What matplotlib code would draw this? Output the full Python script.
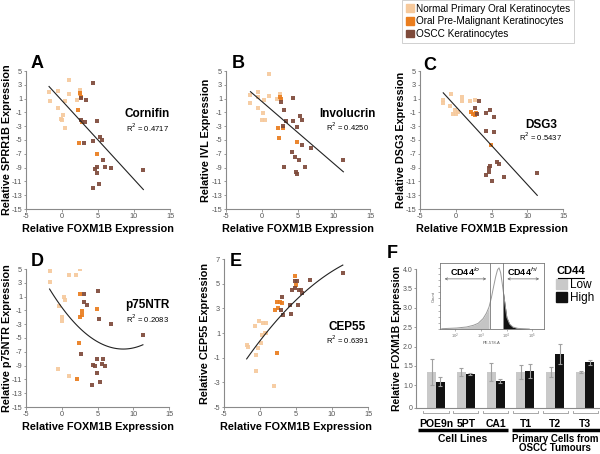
import numpy as np
import matplotlib
matplotlib.use("Agg")
import matplotlib.pyplot as plt
from matplotlib.patches import Patch
from matplotlib.lines import Line2D
import matplotlib.transforms as mtransforms

plt.rcParams['font.family'] = ['Liberation Sans', 'DejaVu Sans']
plt.rcParams['axes.unicode_minus'] = False

# colours of the three sample types
col_norm = '#F6C99C'
col_pre = '#EA7D1E'
col_oscc = '#7E4A3A'
group_names = ['Normal Primary Oral Keratinocytes', 'Oral Pre-Malignant Keratinocytes', 'OSCC Keratinocytes']

# ---- A: SPRR1B ----
a_norm_x = [1.0, -1.8, -0.5, -1.7, 0.4, 1.0, 2.1, 2.5, -0.5, 0.2, 0.0, 0.4, -0.1, 2.5]
a_norm_y = [3.7, 2.0, 2.05, 0.6, 0.6, 1.6, 0.85, 2.3, -0.4, -1.4, -2.1, -3.3, -1.9, 1.7]
a_pre_x = [2.2, 2.5, 2.6, 2.4, 4.9, 2.8]
a_pre_y = [-0.7, 1.8, 1.2, -5.5, -7.1, -2.4]
a_oscc_x = [4.35, 3.3, 2.7, 3.2, 4.9, 3.05, 4.35, 5.3, 5.5, 5.65, 4.9, 4.6, 4.8, 6.0, 6.75, 4.25, 5.1, 11.3, 2.6]
a_oscc_y = [3.2, 0.75, -2.05, -2.4, -2.2, -5.4, -5.1, -4.5, -5.0, -7.85, -8.9, -9.15, -9.8, -8.9, -9.0, -12.0, -11.4, -9.4, 1.1]
a_fit = [-1.14, 0.70]

# ---- B: IVL ----
b_norm_x = [1.0, -1.6, -1.6, -0.55, -0.5, 0.3, 1.0, -0.5, 0.2, 0.0, 0.45, 2.1, 2.5]
b_norm_y = [4.5, 1.5, 0.3, 2.0, 1.25, 0.8, 1.35, -0.3, -1.15, -2.1, -2.1, 1.0, 1.7]
b_pre_x = [2.5, 2.7, 2.2, 2.85, 2.3, 4.8]
b_pre_y = [1.25, 1.0, -3.2, -3.2, -4.75, -5.25]
b_oscc_x = [2.7, 4.3, 3.0, 3.3, 4.3, 5.3, 5.5, 4.8, 2.95, 5.6, 6.75, 4.2, 4.6, 5.2, 6.0, 3.1, 4.7, 4.9, 11.3]
b_oscc_y = [0.5, 1.15, -0.65, -2.25, -2.2, -1.55, -2.1, -3.1, -3.0, -5.7, -6.2, -6.7, -7.4, -7.9, -8.95, -8.85, -9.7, -9.9, -7.9]
b_fit = [-0.90, 0.56]

# ---- C: DSG3 ----
c_norm_x = [-1.75, -1.75, -0.6, -0.75, -0.1, 0.1, -0.4, 0.3, 0.9, 0.9, 2.0, 2.65]
c_norm_y = [0.85, 0.3, 1.7, 0.0, -0.6, -1.2, -1.2, -1.0, 1.3, 0.65, 0.65, 0.85]
c_pre_x = [2.2, 2.4, 2.65, 2.8, 4.9]
c_pre_y = [-1.0, -1.3, -1.4, -1.1, -5.7]
c_oscc_x = [2.65, 3.0, 3.3, 4.3, 4.85, 5.3, 4.3, 5.4, 5.7, 6.0, 4.65, 4.85, 4.65, 4.2, 5.1, 6.75, 11.4]
c_oscc_y = [-0.3, -1.3, 0.65, -1.1, -0.7, -1.65, -3.7, -3.85, -8.2, -8.5, -9.0, -8.8, -9.6, -10.0, -11.0, -10.3, -9.8]
c_fit = [-1.13, -0.14]

# ---- D: p75NTR ----
d_norm_x = [-1.6, -1.7, 1.0, 2.0, 2.55, 0.25, 0.45, -0.45, 0.0, 0.1, -0.5, 1.0]
d_norm_y = [4.65, 3.1, 4.1, 4.1, 5.0, 1.0, 0.45, -0.3, -2.0, -2.6, -9.5, -10.55]
d_pre_x = [2.55, 2.9, 2.8, 2.55, 4.9, 2.4, 2.2]
d_pre_y = [1.4, -1.05, -1.6, -1.95, -0.8, -5.7, -10.9]
d_oscc_x = [3.15, 5.0, 3.1, 3.5, 5.2, 6.85, 11.35, 2.7, 4.9, 5.7, 4.35, 4.65, 5.6, 6.1, 4.95, 5.35, 4.25]
d_oscc_y = [1.4, 1.8, 0.2, -0.2, -2.2, -2.9, -4.6, -7.25, -8.0, -8.05, -8.85, -9.0, -8.7, -9.0, -10.1, -11.4, -11.8]
d_fit = [0.082, -1.41, -0.54]

# ---- E: CEP55 ----
e_norm_x = [-1.85, -1.7, -0.7, -0.1, 0.45, 0.85, 0.25, 0.7, 0.9, 0.15, -0.25, -0.6, -0.6, 1.95]
e_norm_y = [0.05, -0.15, 1.6, 2.0, 1.8, 1.85, 0.8, 1.0, 1.0, 0.2, -0.2, -0.75, -2.05, -3.3]
e_pre_x = [4.85, 2.3, 2.8, 3.0, 2.1, 2.55, 2.4, 5.0]
e_pre_y = [5.65, 3.5, 3.5, 3.4, 2.9, 3.0, -0.6, 4.9]
e_oscc_x = [3.1, 4.85, 5.1, 4.4, 4.8, 6.95, 5.7, 5.9, 5.4, 4.15, 5.3, 3.25, 4.3, 2.9, 11.5]
e_oscc_y = [3.95, 5.2, 5.2, 4.5, 4.65, 5.3, 4.5, 4.25, 4.5, 3.3, 3.3, 2.5, 2.55, 2.9, 5.9]
e_fit = [-0.0194, 0.757, 0.367]

# ---- F: FOXM1B in CD44 low / high cells ----
f_samples = ['POE9n', '5PT', 'CA1', 'T1', 'T2', 'T3']
f_low = [1.34, 1.34, 1.34, 1.34, 1.34, 1.34]
f_low_err = [0.33, 0.10, 0.23, 0.19, 0.13, 0.03]
f_high = [1.09, 1.29, 1.10, 1.36, 1.81, 1.59]
f_high_err = [0.13, 0.02, 0.05, 0.18, 0.25, 0.07]

# flow cytometry histogram (log10 PE intensity vs relative count)
flow_log = [1.49, 2.06, 2.45, 2.71, 2.90, 3.09, 3.22, 3.32, 3.41, 3.50, 3.58, 3.65, 3.71,
            3.77, 3.83, 3.88, 3.95, 4.01, 4.12, 4.24, 4.44, 4.88]
flow_count = [0.5, 1.6, 3.3, 6, 9.3, 17, 26, 36, 51, 70, 86, 97, 100,
              92, 75, 59, 37, 19, 8, 3.3, 1, 0]
flow_lo_cut = 3.35
flow_hi_cut = 3.88

W, H = 600, 454
fig = plt.figure(figsize=(6.0, 4.54), dpi=100)
LAB = 7.8


def rect(x0, y0, x1, y1):
    return [x0 / W, 1 - y1 / H, (x1 - x0) / W, (y1 - y0) / H]


def style_axes(ax):
    for s in ['top', 'right']:
        ax.spines[s].set_visible(False)
    for s in ['left', 'bottom']:
        ax.spines[s].set_color('#8a8a8a')
        ax.spines[s].set_linewidth(0.8)
    ax.tick_params(colors='#8a8a8a', labelcolor='#555555', labelsize=5.3, length=1.8, width=0.6, pad=1.0)


def scatter_panel(box, letter, gene_y, name, r2, groups, fit, ylim, yticks, txt_xy, letter_xy, ylab_x):
    ax = fig.add_axes(rect(*box))
    allx = []
    for (gx, gy), c in zip(groups, [col_norm, col_pre, col_oscc]):
        ax.scatter(gx, gy, marker='s', s=12, color=c, linewidths=0, alpha=0.92, zorder=3)
        allx += gx
    xs = np.linspace(min(allx), max(allx), 100)
    ax.plot(xs, np.polyval(fit, xs), color='#222222', lw=0.8, zorder=4)
    ax.set_xlim(-5, 15)
    ax.set_ylim(*ylim)
    ax.set_xticks([-5, 0, 5, 10, 15])
    ax.set_yticks(yticks)
    style_axes(ax)
    ax.set_xlabel('Relative FOXM1B Expression', fontsize=LAB, fontweight='bold', labelpad=3)
    ax.set_ylabel('Relative %s Expression' % gene_y, fontsize=LAB, fontweight='bold')
    ax.yaxis.set_label_coords((ylab_x - box[0]) / (box[2] - box[0]), 0.5)
    ax.text(txt_xy[0], txt_xy[1], name, fontsize=8.5, fontweight='bold', ha='center', va='center')
    ax.text(txt_xy[0], txt_xy[2], 'R$^2$ = %s' % r2, fontsize=5.5, ha='center', va='center')
    fig.text(letter_xy[0] / W, 1 - letter_xy[1] / H, letter, fontsize=13, fontweight='bold',
             ha='center', va='center')
    return ax


yt = list(range(-15, 6, 2))
scatter_panel((26, 71, 170, 209), 'A', 'SPRR1B', 'Cornifin', '0.4717',
              [(a_norm_x, a_norm_y), (a_pre_x, a_pre_y), (a_oscc_x, a_oscc_y)], a_fit,
              (-15, 5), yt, (11.85, -1.3, -3.2), (37, 63), 11.8)
scatter_panel((226, 71, 370, 209), 'B', 'IVL', 'Involucrin', '0.4250',
              [(b_norm_x, b_norm_y), (b_pre_x, b_pre_y), (b_oscc_x, b_oscc_y)], b_fit,
              (-15, 5), yt, (11.9, -1.2, -3.1), (238, 63), 211)
scatter_panel((420, 71, 563, 209), 'C', 'DSG3', 'DSG3', '0.5437',
              [(c_norm_x, c_norm_y), (c_pre_x, c_pre_y), (c_oscc_x, c_oscc_y)], c_fit,
              (-15, 5), yt, (11.9, -2.8, -4.6), (430, 65), 405.5)
scatter_panel((26, 269, 169, 407), 'D', 'p75NTR', 'p75NTR', '0.2083',
              [(d_norm_x, d_norm_y), (d_pre_x, d_pre_y), (d_oscc_x, d_oscc_y)], d_fit,
              (-15, 5), yt, (11.95, -0.2, -2.15), (37, 262), 11.8)
scatter_panel((224, 259, 368, 407), 'E', 'CEP55', 'CEP55', '0.6391',
              [(e_norm_x, e_norm_y), (e_pre_x, e_pre_y), (e_oscc_x, e_oscc_y)], e_fit,
              (-5, 7), list(range(-5, 8, 2)), (12.1, 1.5, 0.47), (236, 262), 210)

# ---- panel F ----
axf = fig.add_axes(rect(416, 269, 600, 408))


def fwd(v):
    v = np.asarray(v, dtype=float)
    return np.where(v >= 1, v, 1 - (1 - v) * 0.586)


def inv(u):
    u = np.asarray(u, dtype=float)
    return np.where(u >= 1, u, 1 - (1 - u) / 0.586)


axf.set_yscale('function', functions=(fwd, inv))
idx = np.arange(len(f_samples))
bw = 0.3
ekw = dict(ecolor='#a0a0a0', elinewidth=0.8, capsize=1.5, capthick=0.8)
axf.bar(idx - bw / 2, f_low, bw, yerr=f_low_err, color='#c9c9c9', error_kw=ekw, zorder=2)
axf.bar(idx + bw / 2, f_high, bw, yerr=f_high_err, color='#111111', error_kw=ekw, zorder=2)
axf.set_ylim(0, 4.0)
axf.set_xlim(-0.67, 5.5)
axf.set_yticks([0, 1.0, 1.5, 2.0, 2.5, 3.0, 3.5, 4.0])
axf.set_yticklabels(['0', '1.0', '1.5', '2.0', '2.5', '3.0', '3.5', '4.0'])
axf.yaxis.set_minor_locator(matplotlib.ticker.NullLocator())
axf.set_xticks(idx)
axf.set_xticklabels(f_samples)
style_axes(axf)
axf.tick_params(axis='y', length=1.5, pad=0.8, labelsize=5)
axf.tick_params(axis='x', length=0, pad=8, labelsize=7.5, labelcolor='black')
for t in axf.get_xticklabels():
    t.set_fontweight('bold')
axf.set_ylabel('Relative FOXM1B Expression', fontsize=7.5, fontweight='bold')
axf.yaxis.set_label_coords((402.5 - 416) / 184, 0.5)

tr = mtransforms.blended_transform_factory(axf.transData, axf.transAxes)
for i in idx:
    axf.plot([i - 0.42, i - 0.42, i + 0.42, i + 0.42], [-0.02, -0.035, -0.035, -0.02],
             transform=tr, clip_on=False, color='#9a9a9a', lw=0.6)
axf.plot([-0.6, 2.42], [-0.155, -0.155], transform=tr, clip_on=False, color='black', lw=2.5,
         solid_capstyle='butt')
axf.plot([2.55, 5.5], [-0.155, -0.155], transform=tr, clip_on=False, color='black', lw=2.5,
         solid_capstyle='butt')
axf.text(0.9, -0.225, 'Cell Lines', transform=tr, ha='center', va='center', fontsize=7.5,
         fontweight='bold')
axf.text(4.0, -0.255, 'Primary Cells from\nOSCC Tumours', transform=tr, ha='center', va='center',
         fontsize=7, fontweight='bold', linespacing=0.95)
fig.text(392 / W, 1 - 254 / H, 'F', fontsize=13, fontweight='bold', ha='center', va='center')

# CD44 legend
fig.text(571 / W, 1 - 271 / H, 'CD44', fontsize=8, fontweight='bold', ha='center', va='center')
fig.add_artist(Line2D([558 / W, 584 / W], [1 - 277.5 / H, 1 - 277.5 / H], color='black', lw=0.8))
axf.legend(handles=[Patch(color='#c9c9c9', label='Low'), Patch(color='#111111', label='High')],
           loc='upper left', bbox_to_anchor=((555 - 416) / 184, 1 - (278 - 269) / 139),
           fontsize=8.5, frameon=False, handlelength=0.9, handleheight=0.9,
           handletextpad=0.3, labelspacing=0.1, borderpad=0.1, borderaxespad=0)

# flow cytometry inset
axi = fig.add_axes(rect(440, 263, 544, 329))
fx = np.array(flow_log)
fy = np.array(flow_count)
axi.plot(fx, fy, color='#9a9a9a', lw=0.7)
axi.fill_between(fx, fy, where=fx <= flow_lo_cut + 0.05, color='#c4c4c4', lw=0)
axi.fill_between(fx, fy, where=fx >= flow_hi_cut, color='#111111', lw=0)
axi.axvline(flow_lo_cut, color='#777777', lw=0.6)
axi.axvline(flow_hi_cut, color='#777777', lw=0.6)
axi.set_xlim(1.42, 5.45)
axi.set_ylim(0, 108)
axi.set_xticks([2, 3, 4, 5])
axi.set_xticklabels(['10$^2$', '10$^3$', '10$^4$', '10$^5$'])
axi.set_yticks(range(0, 101, 10))
axi.set_yticklabels([])
axi.tick_params(labelsize=3, length=1.2, width=0.4, pad=0.5, colors='#777777')
for s in axi.spines.values():
    s.set_color('#777777')
    s.set_linewidth(0.6)
axi.set_xlabel('PE-578-A', fontsize=3, labelpad=0.5, color='#555555')
axi.set_ylabel('Count', fontsize=3, labelpad=1, color='#555555')
axi.annotate('', xy=(1.49, 82), xytext=(3.32, 82),
             arrowprops=dict(arrowstyle='<->', color='#666666', lw=0.5, mutation_scale=4))
axi.annotate('', xy=(3.92, 82), xytext=(5.37, 82),
             arrowprops=dict(arrowstyle='<->', color='#666666', lw=0.5, mutation_scale=4))
axi.text(2.4, 94, 'CD44$^{lo}$', fontsize=6.5, fontweight='bold', ha='center', va='center')
axi.text(4.62, 94, 'CD44$^{hi}$', fontsize=6.5, fontweight='bold', ha='center', va='center')

# top legend
handles = [Patch(color=c, label=n) for c, n in zip([col_norm, col_pre, col_oscc], group_names)]
leg = fig.legend(handles=handles, loc='upper left', bbox_to_anchor=(402 / W, 1.0), fontsize=7.2,
                 frameon=True, fancybox=False, edgecolor='#bbbbbb', handlelength=0.8,
                 handleheight=0.8, handletextpad=0.3, labelspacing=0.28, borderpad=0.35,
                 borderaxespad=0)
leg.get_frame().set_linewidth(0.6)

fig.savefig('out.png', dpi=100)
